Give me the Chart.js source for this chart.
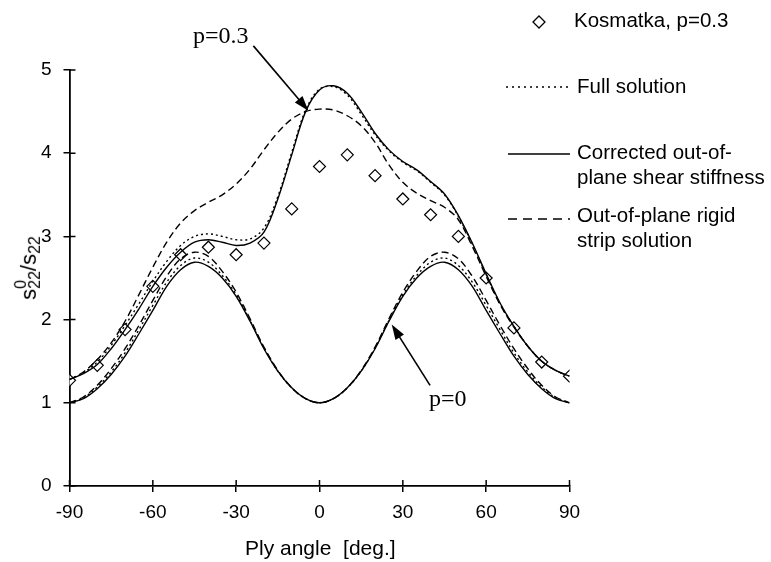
<!DOCTYPE html>
<html>
<head>
<meta charset="utf-8">
<script src="https://cdn.jsdelivr.net/npm/chart.js@4.4.1/dist/chart.umd.min.js"></script>
<style>
  html, body { margin: 0; padding: 0; background: #fff; }
  #wrap { position: relative; width: 771px; height: 562px; overflow: hidden; }
  canvas { position: absolute; left: 0; top: 0; }
  .t { position: absolute; font-family: "Liberation Sans", Arial, sans-serif; font-size: 20.5px; color: #000; white-space: nowrap; line-height: 25px; }
  .serif { position: absolute; font-family: "Liberation Serif", "Times New Roman", serif; font-size: 24px; color: #000; white-space: nowrap; line-height: 26px; }
  #ytitle { position: absolute; left: 30px; top: 268px; transform: translate(-50%, -50%) rotate(-90deg); font-family: "Liberation Sans", Arial, sans-serif; font-size: 22px; white-space: nowrap; }
  .stack { display: inline-block; vertical-align: middle; line-height: 14px; font-size: 16px; text-align: left; position: relative; top: -2px; }
</style>
</head>
<body>
<div id="wrap">
  <canvas id="c" width="771" height="562"></canvas>
  <div id="ytitle">s<span class="stack">0<br>22</span>/s<span class="stack"><br>22</span></div>
  <div class="t" style="left:245px; top:535px; font-size:21px;">Ply angle&nbsp;&nbsp;[deg.]</div>
  <div class="t" style="left:574px; top:7px;">Kosmatka, p=0.3</div>
  <div class="t" style="left:577px; top:73px;">Full solution</div>
  <div class="t" style="left:577px; top:139px;">Corrected out-of-<br>plane shear stiffness</div>
  <div class="t" style="left:577px; top:202px;">Out-of-plane rigid<br>strip solution</div>
  <div class="serif" style="left:193px; top:22px;">p=0.3</div>
  <div class="serif" style="left:429px; top:385px;">p=0</div>
</div>
<script>
// ---- data ----
const angles = [-90,-85,-80,-75,-70,-65,-60,-55,-50,-45,-40,-35,-30,-25,-20,-15,-10,-5,0,5,10,15,20,25,30,35,40,45,50,55,60,65,70,75,80,85,90];

const p0Corrected = [1.00,1.05,1.17,1.34,1.56,1.83,2.11,2.40,2.60,2.69,2.64,2.50,2.28,1.98,1.65,1.38,1.18,1.05,1.00,1.05,1.18,1.38,1.65,1.98,2.28,2.50,2.64,2.69,2.60,2.40,2.11,1.83,1.56,1.34,1.17,1.05,1.00];
const p0Full      = [1.00,1.06,1.19,1.37,1.60,1.88,2.17,2.45,2.65,2.74,2.69,2.53,2.30,1.99,1.66,1.38,1.18,1.05,1.00,1.05,1.18,1.38,1.66,1.99,2.30,2.53,2.69,2.74,2.65,2.45,2.17,1.88,1.60,1.37,1.19,1.06,1.00];
const p0Rigid     = [1.00,1.07,1.21,1.41,1.65,1.93,2.23,2.52,2.73,2.81,2.76,2.58,2.33,2.01,1.67,1.39,1.18,1.05,1.00,1.05,1.18,1.39,1.67,2.01,2.33,2.58,2.76,2.81,2.73,2.52,2.23,1.93,1.65,1.41,1.21,1.07,1.00];

const p03Corrected = [1.28,1.35,1.46,1.65,1.88,2.13,2.40,2.63,2.81,2.93,2.96,2.93,2.89,2.92,3.05,3.45,3.98,4.50,4.76,4.81,4.72,4.50,4.24,4.04,3.90,3.80,3.66,3.51,3.25,2.92,2.55,2.20,1.92,1.68,1.50,1.39,1.32];
const p03Full      = [1.28,1.36,1.49,1.69,1.93,2.19,2.46,2.70,2.89,3.00,3.03,3.00,2.96,2.97,3.10,3.48,4.01,4.52,4.77,4.80,4.70,4.47,4.22,4.03,3.89,3.79,3.65,3.50,3.24,2.91,2.54,2.19,1.92,1.68,1.50,1.39,1.32];
const p03Rigid     = [1.28,1.37,1.52,1.72,1.98,2.30,2.63,2.93,3.16,3.31,3.41,3.50,3.63,3.81,4.04,4.25,4.41,4.50,4.53,4.52,4.45,4.33,4.13,3.86,3.65,3.52,3.43,3.35,3.20,2.88,2.52,2.18,1.91,1.68,1.50,1.39,1.32];

const kosAngles = [-90,-80,-70,-60,-50,-40,-30,-20,-10,0,10,20,30,40,50,60,70,80,90];
const kosValues = [1.27,1.45,1.88,2.40,2.78,2.87,2.78,2.92,3.33,3.84,3.98,3.73,3.45,3.26,3.00,2.50,1.90,1.49,1.32];

const xTicks = [-90,-60,-30,0,30,60,90];
const yTicks = [0,1,2,3,4,5];

// annotation arrows in data units: [fromX, fromY, toX, toY]
const arrowP03 = [-23.8, 5.29, -4.0, 4.51];
const arrowP0  = [39.8, 1.21, 26.0, 1.94];

// ---- helpers ----
const pts = (xs, ys) => xs.map((x, i) => ({x: x, y: ys[i]}));
const lineDs = (label, ys, dash) => ({
  label, data: pts(angles, ys), showLine: true, pointRadius: 0,
  borderColor: '#000', borderWidth: 1.4, borderDash: dash, tension: 0.35,
  fill: false
});

const FONT = "'Liberation Sans', Arial, sans-serif";

const extras = {
  id: 'extras',
  afterDraw(chart) {
    const ctx = chart.ctx;
    const xs = chart.scales.x, ys = chart.scales.y;
    const ca = chart.chartArea;
    ctx.save();
    ctx.strokeStyle = '#000';
    ctx.lineWidth = 1.5;
    // inner half of crossing tick marks
    ctx.beginPath();
    yTicks.forEach(v => { const y = ys.getPixelForValue(v); ctx.moveTo(ca.left, y); ctx.lineTo(ca.left + 6, y); });
    xTicks.forEach(v => { const x = xs.getPixelForValue(v); ctx.moveTo(x, ca.bottom); ctx.lineTo(x, ca.bottom - 6); });
    ctx.stroke();

    // arrows
    const arrow = (a) => {
      const x1 = xs.getPixelForValue(a[0]), y1 = ys.getPixelForValue(a[1]);
      const x2 = xs.getPixelForValue(a[2]), y2 = ys.getPixelForValue(a[3]);
      const ang = Math.atan2(y2 - y1, x2 - x1);
      const L = 15, W = 5;
      ctx.lineWidth = 1.6;
      ctx.beginPath();
      ctx.moveTo(x1, y1);
      ctx.lineTo(x2 - (L - 2) * Math.cos(ang), y2 - (L - 2) * Math.sin(ang));
      ctx.stroke();
      ctx.beginPath();
      ctx.moveTo(x2, y2);
      ctx.lineTo(x2 - L * Math.cos(ang) + W * Math.sin(ang), y2 - L * Math.sin(ang) - W * Math.cos(ang));
      ctx.lineTo(x2 - L * Math.cos(ang) - W * Math.sin(ang), y2 - L * Math.sin(ang) + W * Math.cos(ang));
      ctx.closePath();
      ctx.fillStyle = '#000';
      ctx.fill();
    };
    arrow(arrowP03);
    arrow(arrowP0);

    // legend symbols
    ctx.lineWidth = 1.3;
    // diamond
    ctx.beginPath();
    ctx.moveTo(539, 16); ctx.lineTo(545, 22); ctx.lineTo(539, 28); ctx.lineTo(533, 22); ctx.closePath();
    ctx.fillStyle = '#fff'; ctx.fill(); ctx.stroke();
    // dotted
    ctx.setLineDash([2, 4]);
    ctx.beginPath(); ctx.moveTo(506, 87); ctx.lineTo(568, 87); ctx.stroke();
    // solid
    ctx.setLineDash([]);
    ctx.beginPath(); ctx.moveTo(508, 154); ctx.lineTo(570, 154); ctx.stroke();
    // dashed
    ctx.setLineDash([9, 6]);
    ctx.beginPath(); ctx.moveTo(508, 219); ctx.lineTo(570, 219); ctx.stroke();
    ctx.restore();
  }
};

new Chart(document.getElementById('c'), {
  type: 'scatter',
  data: {
    datasets: [
      lineDs('p=0 corrected', p0Corrected, []),
      lineDs('p=0 full', p0Full, [2, 3]),
      lineDs('p=0 rigid', p0Rigid, [7, 4]),
      lineDs('p=0.3 corrected', p03Corrected, []),
      lineDs('p=0.3 full', p03Full, [2, 3]),
      lineDs('p=0.3 rigid', p03Rigid, [7, 4]),
      {
        label: 'Kosmatka, p=0.3', data: pts(kosAngles, kosValues), showLine: false,
        pointStyle: 'rectRot', pointRadius: 6, pointBackgroundColor: '#fff',
        pointBorderColor: '#000', pointBorderWidth: 1.2
      }
    ]
  },
  options: {
    responsive: false,
    devicePixelRatio: 1,
    animation: false,
    layout: { padding: { top: 70, right: 201.5, bottom: 0, left: 0 } },
    plugins: { legend: { display: false }, tooltip: { enabled: false } },
    scales: {
      x: {
        type: 'linear', min: -90, max: 90,
        afterBuildTicks: s => { s.ticks = xTicks.map(v => ({value: v})); },
        afterFit: s => { s.height = 76; },
        grid: { drawOnChartArea: false, drawTicks: true, tickLength: 6, color: '#000', lineWidth: 1.5 },
        border: { color: '#000', width: 1.8 },
        ticks: { color: '#000', font: { family: FONT, size: 19 }, padding: 9, maxRotation: 0, autoSkip: false }
      },
      y: {
        type: 'linear', min: 0, max: 5,
        afterBuildTicks: s => { s.ticks = yTicks.map(v => ({value: v})); },
        afterFit: s => { s.width = 69.5; },
        grid: { drawOnChartArea: false, drawTicks: true, tickLength: 6, color: '#000', lineWidth: 1.5 },
        border: { color: '#000', width: 1.8 },
        ticks: { color: '#000', font: { family: FONT, size: 19 }, padding: 12 }
      }
    }
  },
  plugins: [extras]
});
</script>
</body>
</html>
